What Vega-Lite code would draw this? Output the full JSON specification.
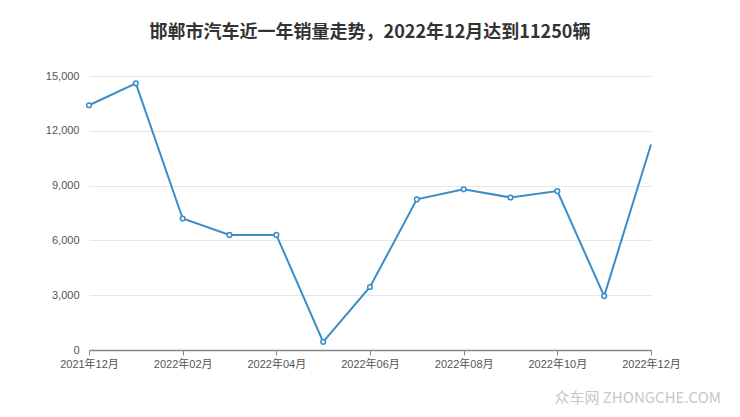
{
  "$schema": "https://vega.github.io/schema/vega-lite/v6.json",
  "width": 562,
  "height": 274,
  "autosize": "none",
  "padding": {"left": 89, "top": 76, "right": 89, "bottom": 67},
  "background": "white",
  "title": {
    "text": "邯郸市汽车近一年销量走势，2022年12月达到11250辆",
    "font": "Noto Sans CJK SC",
    "fontSize": 18,
    "fontWeight": "bold",
    "color": "#333333",
    "anchor": "middle",
    "offset": 28
  },
  "data": {
    "values": [
      {"month": "2021-12", "sales": 13400},
      {"month": "2022-01", "sales": 14600},
      {"month": "2022-02", "sales": 7200},
      {"month": "2022-03", "sales": 6300},
      {"month": "2022-04", "sales": 6300},
      {"month": "2022-05", "sales": 450},
      {"month": "2022-06", "sales": 3450},
      {"month": "2022-07", "sales": 8250},
      {"month": "2022-08", "sales": 8800},
      {"month": "2022-09", "sales": 8350},
      {"month": "2022-10", "sales": 8700},
      {"month": "2022-11", "sales": 2950},
      {"month": "2022-12", "sales": 11250}
    ]
  },
  "config": {
    "view": {"stroke": null},
    "font": "Liberation Sans, Noto Sans CJK SC"
  },
  "encoding": {
    "x": {
      "field": "month",
      "type": "ordinal",
      "sort": null,
      "scale": {"type": "point", "padding": 0},
      "axis": {
        "title": null,
        "values": ["2021-12", "2022-02", "2022-04", "2022-06", "2022-08", "2022-10", "2022-12"],
        "labelExpr": "split(datum.value, '-')[0] + '年' + split(datum.value, '-')[1] + '月'",
        "labelAngle": 0,
        "labelFont": "Liberation Sans, Noto Sans CJK SC",
        "labelFontSize": 11,
        "labelColor": "#555555",
        "labelPadding": 3,
        "domainColor": "#888888",
        "domainWidth": 1.5,
        "tickColor": "#888888",
        "tickSize": 5,
        "grid": false
      }
    },
    "y": {
      "field": "sales",
      "type": "quantitative",
      "scale": {"domain": [0, 15000], "nice": false},
      "axis": {
        "title": null,
        "values": [0, 3000, 6000, 9000, 12000, 15000],
        "format": ",d",
        "labelFont": "Liberation Sans",
        "labelFontSize": 11,
        "labelColor": "#555555",
        "labelPadding": 10,
        "domain": false,
        "ticks": false,
        "gridColor": "#e6e6e6",
        "gridWidth": 1
      }
    }
  },
  "layer": [
    {
      "mark": {"type": "line", "color": "#3a8dc6", "strokeWidth": 2}
    },
    {
      "transform": [{"filter": "datum.month != '2022-12'"}],
      "mark": {"type": "point", "shape": "circle", "size": 22, "filled": true, "fill": "white", "stroke": "#3a8dc6", "strokeWidth": 1.5, "opacity": 1}
    },
    {
      "transform": [{"filter": "datum.month == '2022-12'"}],
      "mark": {"type": "text", "align": "right", "baseline": "middle", "dx": 70, "dy": 48, "fontSize": 15, "color": "#c8c8c8", "font": "Noto Sans CJK SC", "clip": false},
      "encoding": {
        "y": {"datum": 0},
        "text": {"value": "众车网 ZHONGCHE.COM"}
      }
    }
  ]
}
